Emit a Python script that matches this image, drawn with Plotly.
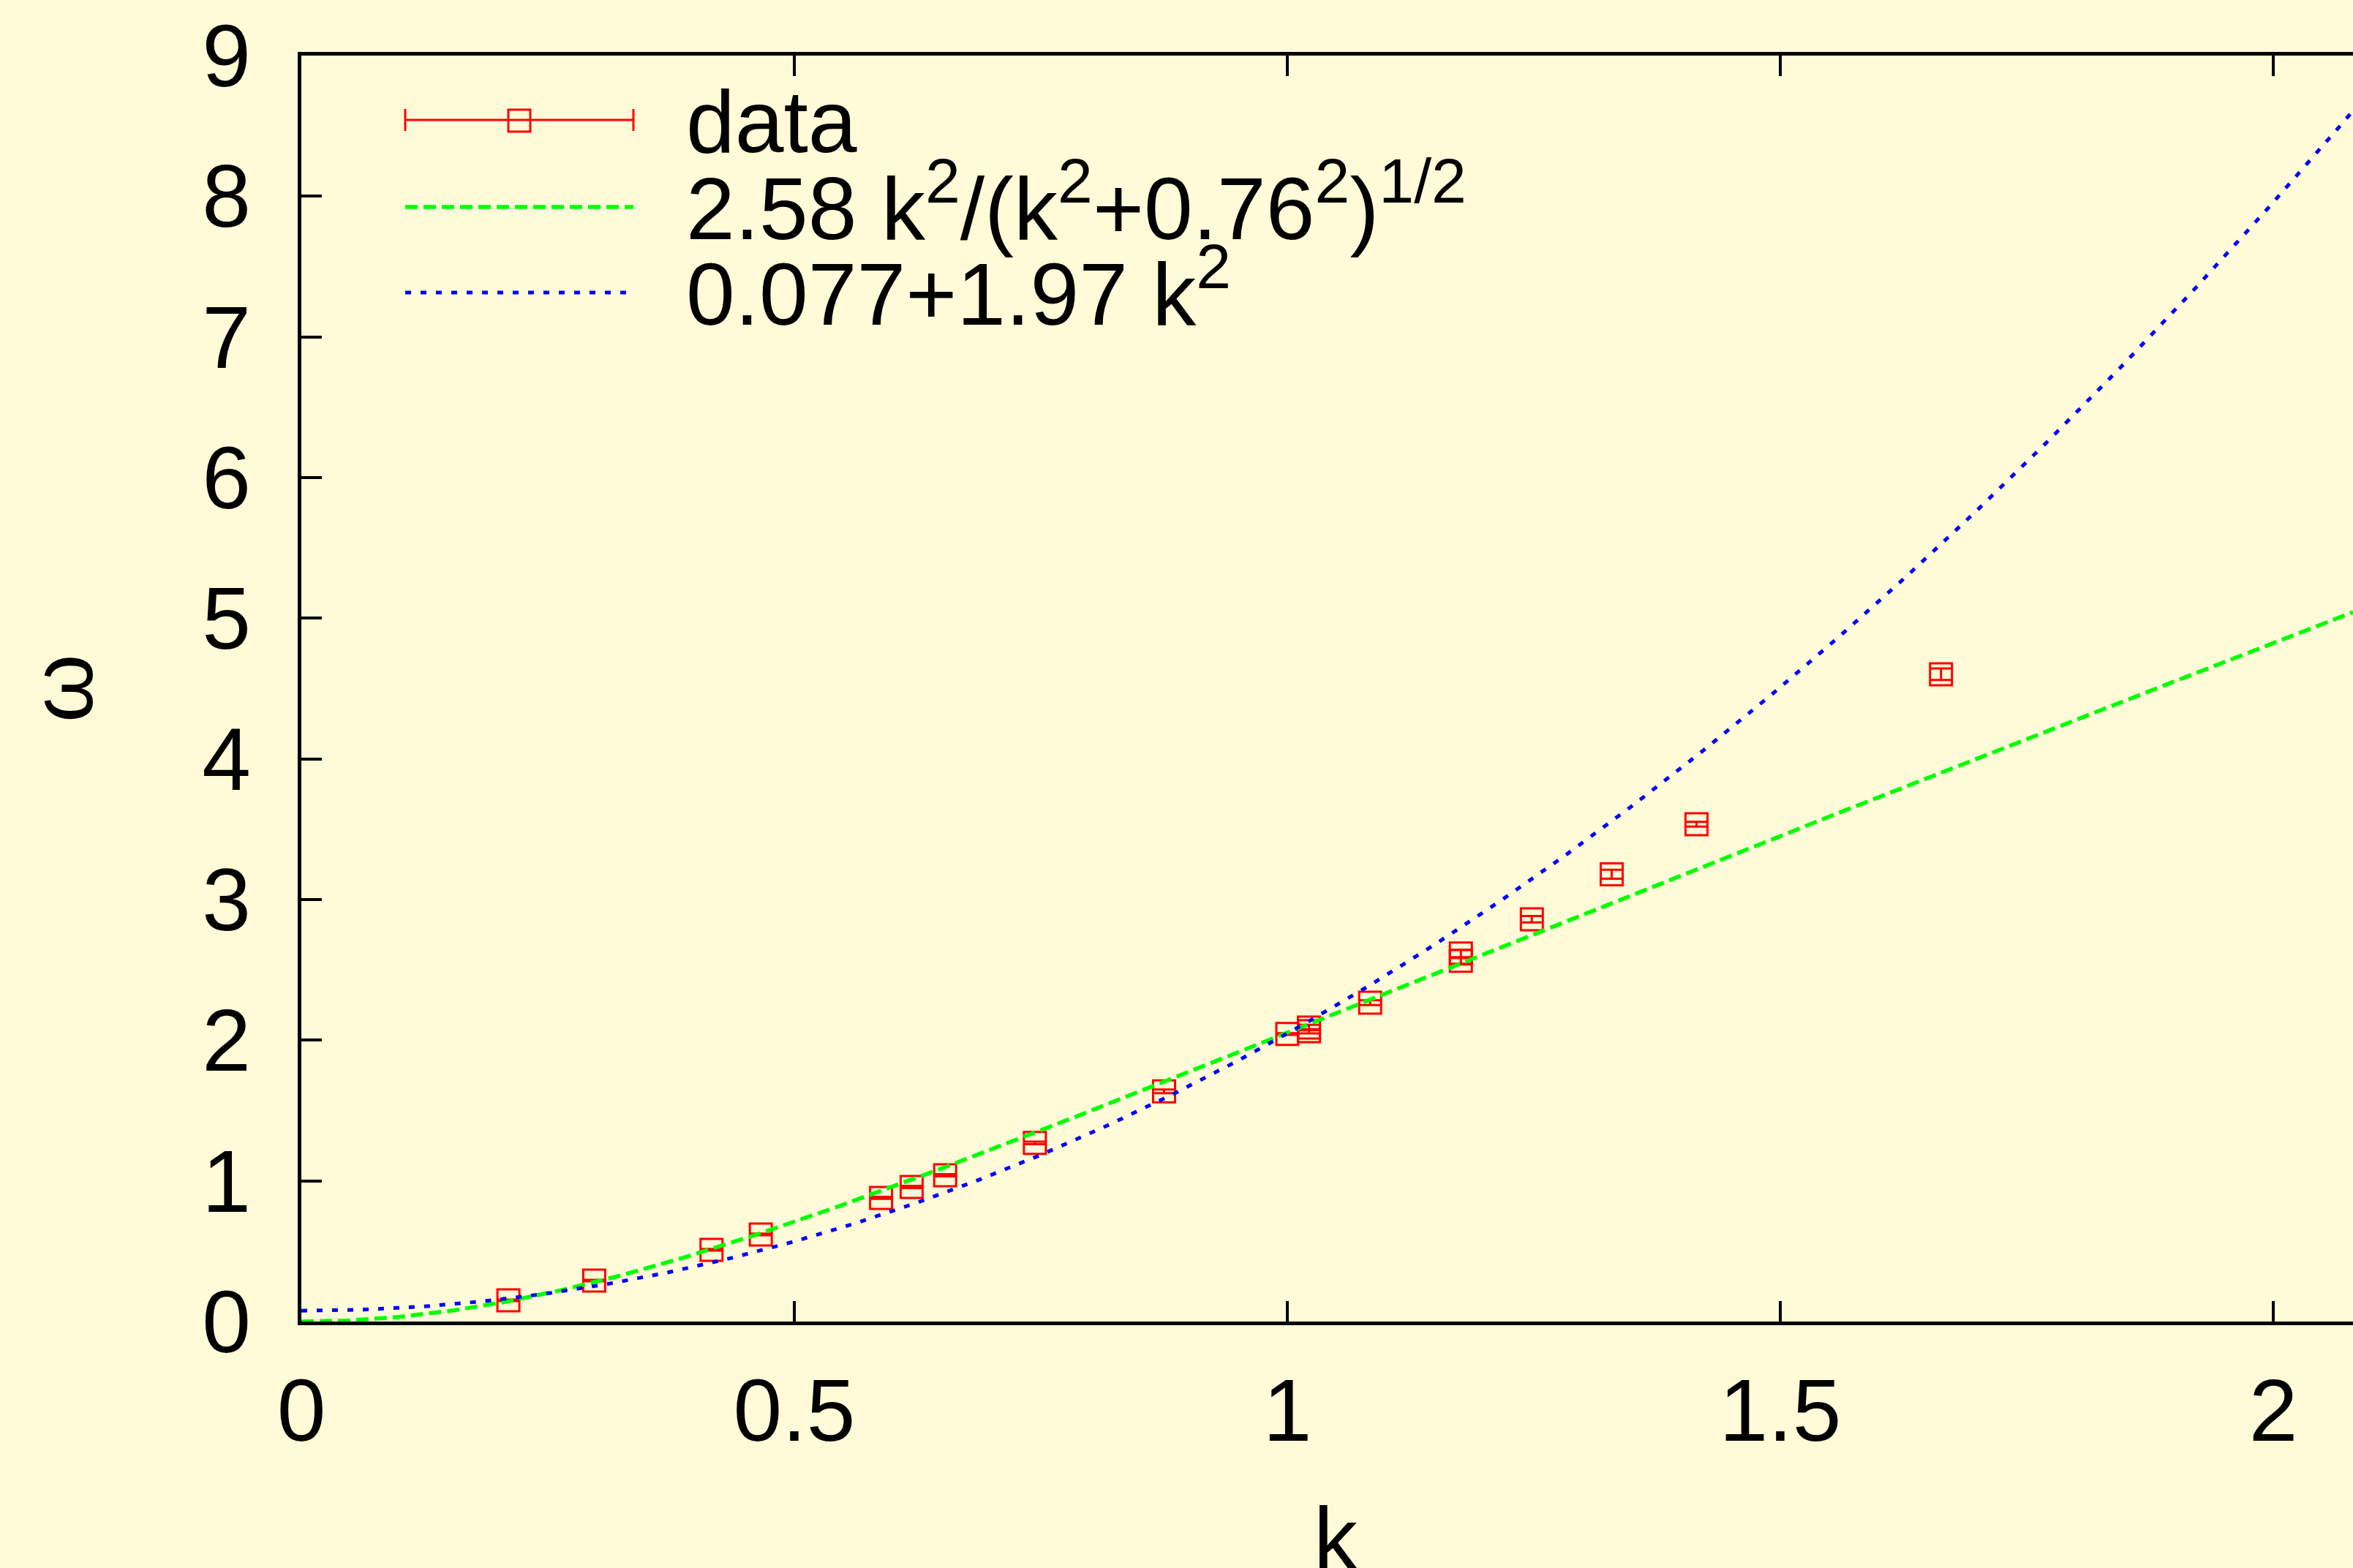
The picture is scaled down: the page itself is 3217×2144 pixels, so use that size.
import numpy as np
import plotly.graph_objects as go

# Measured dispersion relation: momentum k, energy omega and its statistical error
k = [0.210, 0.297, 0.416, 0.466, 0.588, 0.619, 0.653, 0.744, 0.875, 1.000,
     1.022, 1.022, 1.084, 1.176, 1.176, 1.248, 1.329, 1.415, 1.663]
omega = [0.151, 0.291, 0.510, 0.619, 0.879, 0.957, 1.040, 1.270, 1.636, 2.044,
         2.064, 2.090, 2.267, 2.564, 2.616, 2.860, 3.180, 3.536, 4.602]
omega_err = [0.005, 0.005, 0.006, 0.006, 0.007, 0.008, 0.008, 0.009, 0.013, 0.006,
             0.015, 0.020, 0.017, 0.020, 0.025, 0.023, 0.032, 0.017, 0.041]

# Fit parameters
fit_amp, fit_mass = 2.58, 0.76          # 2.58 k^2 / sqrt(k^2 + 0.76^2)
quad_c0, quad_c2 = 0.077, 1.97          # 0.077 + 1.97 k^2

x_ticks = [0, 0.5, 1, 1.5, 2]
x_tick_text = ["0", "0.5", "1", "1.5", "2"]
y_ticks = list(range(0, 10))
y_tick_text = [str(v) for v in y_ticks]


def sup(s):
    return "<sup><span style='font-size:86px'>" + s + "</span></sup>"


legend_labels = [
    "data",
    "2.58 k" + sup("2") + "/(k" + sup("2") + "+0.76" + sup("2") + ")" + sup("1/2"),
    "0.077+1.97 k" + sup("2"),
]

# Page geometry
W, H = 3217, 2144
ML, MT, MB = 412, 76, 337
PW, PH = W - ML, H - MT - MB
x_max = PW / 1348.0
y_max = 9

BG = "rgb(255,250,215)"
FONT = "Liberation Sans, Arial, Helvetica, sans-serif"
FS = 120


def pxx(px):
    return (px - ML) / PW


def pxy(py):
    return (MT + PH - py) / PH


k_line = np.linspace(0, x_max, 500)
fit_curve = fit_amp * k_line ** 2 / np.sqrt(k_line ** 2 + fit_mass ** 2)
quad_curve = quad_c0 + quad_c2 * k_line ** 2

fig = go.Figure()

fig.add_trace(go.Scatter(
    x=k, y=omega, mode="markers",
    marker=dict(symbol="square-open", size=30, color="#ff0000",
                line=dict(color="#ff0000", width=3)),
    error_y=dict(type="data", array=omega_err, visible=True,
                 color="#ff0000", thickness=3, width=15),
    showlegend=False,
))
fig.add_trace(go.Scatter(
    x=k_line, y=fit_curve, mode="lines",
    line=dict(color="#00ff00", width=5.5, dash="17px,8px"),
    showlegend=False,
))
fig.add_trace(go.Scatter(
    x=k_line, y=quad_curve, mode="lines",
    line=dict(color="#0000ff", width=5, dash="8px,13px"),
    showlegend=False,
))

# Key in the upper-left corner
shapes = []
key_x0, key_x1 = 554, 866
row_y = [164, 283, 400]
shapes.append(dict(type="line", xref="paper", yref="paper",
                   x0=pxx(key_x0), x1=pxx(key_x1), y0=pxy(row_y[0]), y1=pxy(row_y[0]),
                   line=dict(color="#ff0000", width=3)))
for cx in (key_x0, key_x1):
    shapes.append(dict(type="line", xref="paper", yref="paper",
                       x0=pxx(cx), x1=pxx(cx), y0=pxy(row_y[0] - 15), y1=pxy(row_y[0] + 15),
                       line=dict(color="#ff0000", width=3)))
mid = (key_x0 + key_x1) / 2
shapes.append(dict(type="rect", xref="paper", yref="paper",
                   x0=pxx(mid - 15), x1=pxx(mid + 15),
                   y0=pxy(row_y[0] + 16), y1=pxy(row_y[0] - 14),
                   line=dict(color="#ff0000", width=3)))
shapes.append(dict(type="line", xref="paper", yref="paper",
                   x0=pxx(key_x0), x1=pxx(key_x1), y0=pxy(row_y[1]), y1=pxy(row_y[1]),
                   line=dict(color="#00ff00", width=5.5, dash="17px,8px")))
shapes.append(dict(type="line", xref="paper", yref="paper",
                   x0=pxx(key_x0), x1=pxx(856), y0=pxy(row_y[2]), y1=pxy(row_y[2]),
                   line=dict(color="#0000ff", width=5, dash="8px,13px")))

annotations = []
baselines = [207, 326, 443]
for text, base in zip(legend_labels, baselines):
    annotations.append(dict(
        text=text, xref="paper", yref="paper",
        x=pxx(937), y=pxy(base + 27), xanchor="left", yanchor="bottom",
        showarrow=False, font=dict(family=FONT, size=FS, color="black"),
        borderpad=0,
    ))

# Axis titles
annotations.append(dict(
    text="ω", xref="paper", yref="paper", x=pxx(84), y=pxy(941),
    xanchor="center", yanchor="middle", textangle=-90, showarrow=False,
    font=dict(family=FONT, size=FS, color="black"),
))
annotations.append(dict(
    text="k", xref="paper", yref="paper", x=pxx(1826), y=pxy(2144 + 27),
    xanchor="center", yanchor="bottom", showarrow=False,
    font=dict(family=FONT, size=FS, color="black"), borderpad=0,
))

fig.update_layout(
    width=W, height=H,
    margin=dict(l=ML, r=0, t=MT, b=MB, pad=0),
    paper_bgcolor=BG, plot_bgcolor=BG,
    font=dict(family=FONT, size=FS, color="black"),
    showlegend=False,
    shapes=shapes,
    annotations=annotations,
)
fig.update_xaxes(
    range=[0, x_max], tickvals=x_ticks, ticktext=x_tick_text,
    showgrid=False, zeroline=False,
    showline=True, linecolor="black", linewidth=5, mirror="ticks",
    ticks="inside", ticklen=28, tickwidth=4, tickcolor="black",
    ticklabelstandoff=14,
    tickfont=dict(family=FONT, size=FS, color="black"),
)
fig.update_yaxes(
    range=[0, y_max], tickvals=y_ticks, ticktext=y_tick_text,
    showgrid=False, zeroline=False,
    showline=True, linecolor="black", linewidth=5, mirror=False,
    ticks="inside", ticklen=28, tickwidth=4, tickcolor="black",
    ticklabelstandoff=40,
    tickfont=dict(family=FONT, size=FS, color="black"),
)

fig.write_html("out.html")
